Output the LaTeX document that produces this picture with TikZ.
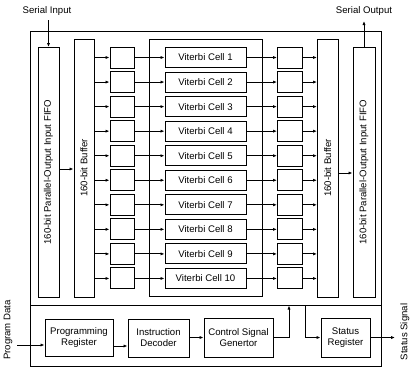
\documentclass[tikz,border=0pt]{standalone}
\usepackage{fontspec}
\setmainfont{Liberation Sans}
\usetikzlibrary{arrows.meta}
\begin{document}
\begin{tikzpicture}[x=1pt,y=-1pt,
  every path/.style={line width=1pt},
  blk/.style={draw,line width=1pt,inner sep=0pt},
  lbl/.style={font=\fontsize{9.6}{11}\selectfont,align=center,inner sep=0pt},
  arr/.style={-{Latex[length=4pt,width=3.2pt]},line width=1pt}]
\useasboundingbox (0,0) rectangle (411,368);
% outer frame and divider
\draw[line width=1pt] (30.5,31) rectangle (381.5,366);
\coordinate (divL) at (30.5,305.5);
\coordinate (divR) at (381.5,305.5);
\draw (divL) -- (divR);
% FIFOs and buffers
\node[blk,minimum width=21pt,minimum height=249.5pt] (fin) at (48.5,172.25) {};
\node[lbl,rotate=90] at (fin.center) {160-bit Parallel-Output Input FIFO};
\node[blk,minimum width=20pt,minimum height=258pt] (bufL) at (84,168) {};
\node[lbl,rotate=90] at (bufL.center) {160-bit Buffer};
\node[blk,minimum width=20.5pt,minimum height=258pt] (bufR) at (327.75,168) {};
\node[lbl,rotate=90] at (bufR.center) {160-bit Buffer};
\node[blk,minimum width=22pt,minimum height=249.5pt] (fout) at (364,172.25) {};
\node[lbl,rotate=90] at (fout.center) {160-bit Parallel-Output Input FIFO};
% viterbi frame
\node[blk,minimum width=112.5pt,minimum height=257pt] (vframe) at (205.75,167.5) {};
% rows
\foreach \i in {1,...,10}{
  \pgfmathsetmacro{\yy}{57.5+24.55*(\i-1)}
  \node[blk,minimum width=24pt,minimum height=21pt] (sl\i) at (122,\yy) {};
  \node[blk,minimum width=81pt,minimum height=20pt,lbl] (vc\i) at (205.5,\yy) {Viterbi Cell \i};
  \node[blk,minimum width=24.5pt,minimum height=21pt] (sr\i) at (289.75,\yy) {};
  \draw[arr] (bufL.east |- sl\i.west) -- (sl\i.west);
  \draw[arr] (sl\i.east) -- (vc\i.west);
  \draw[arr] (vc\i.east) -- (sr\i.west);
  \draw[arr] (sr\i.east) -- (bufR.west |- sr\i.east);
}
% FIFO to buffer
\coordinate (finA) at (59,169);
\draw[arr] (finA) -- (bufL.west |- finA);
\coordinate (foutA) at (338,173);
\draw[arr] (foutA) -- (fout.west |- foutA);
% serial in/out
\node[lbl] (sin) at (47,11) {Serial Input};
\coordinate (sinS) at (48.5,20);
\draw[arr] (sinS) -- (fin.north);
\node[lbl] (sout) at (364,11) {Serial Output};
\coordinate (soutE) at (364,21);
\draw[arr] (fout.north) -- (soutE);
% bottom blocks
\node[blk,lbl,minimum width=68pt,minimum height=37.5pt] (pr) at (79,337.75) {Programming\\Register};
\node[blk,lbl,minimum width=61pt,minimum height=38pt] (id) at (158.5,338) {Instruction\\Decoder};
\node[blk,lbl,minimum width=69pt,minimum height=39pt] (csg) at (238.5,337.5) {Control Signal\\Genertor};
\node[blk,lbl,minimum width=49pt,minimum height=39pt] (sreg) at (345.5,337.5) {Status\\Register};
% program data
\node[lbl,rotate=90] (pd) at (8,330) {Program Data};
\coordinate (pdS) at (17,345);
\draw[arr] (pdS) -- (pr.west |- pdS);
\coordinate (prA) at (113,346);
\draw[arr] (prA) -- (id.west |- prA);
\draw[arr] (id.east |- csg.west) -- (csg.west);
\coordinate (up) at (289,305.5);
\draw[arr] (csg.east) -| (up);
\coordinate (dn) at (305,305.5);
\draw[arr] (dn) |- (sreg.west);
% status signal
\coordinate (ssE) at (395,337.5);
\draw[arr] (sreg.east) -- (ssE);
\node[lbl,rotate=90] (ss) at (405,332) {Status Signal};
\end{tikzpicture}
\end{document}
